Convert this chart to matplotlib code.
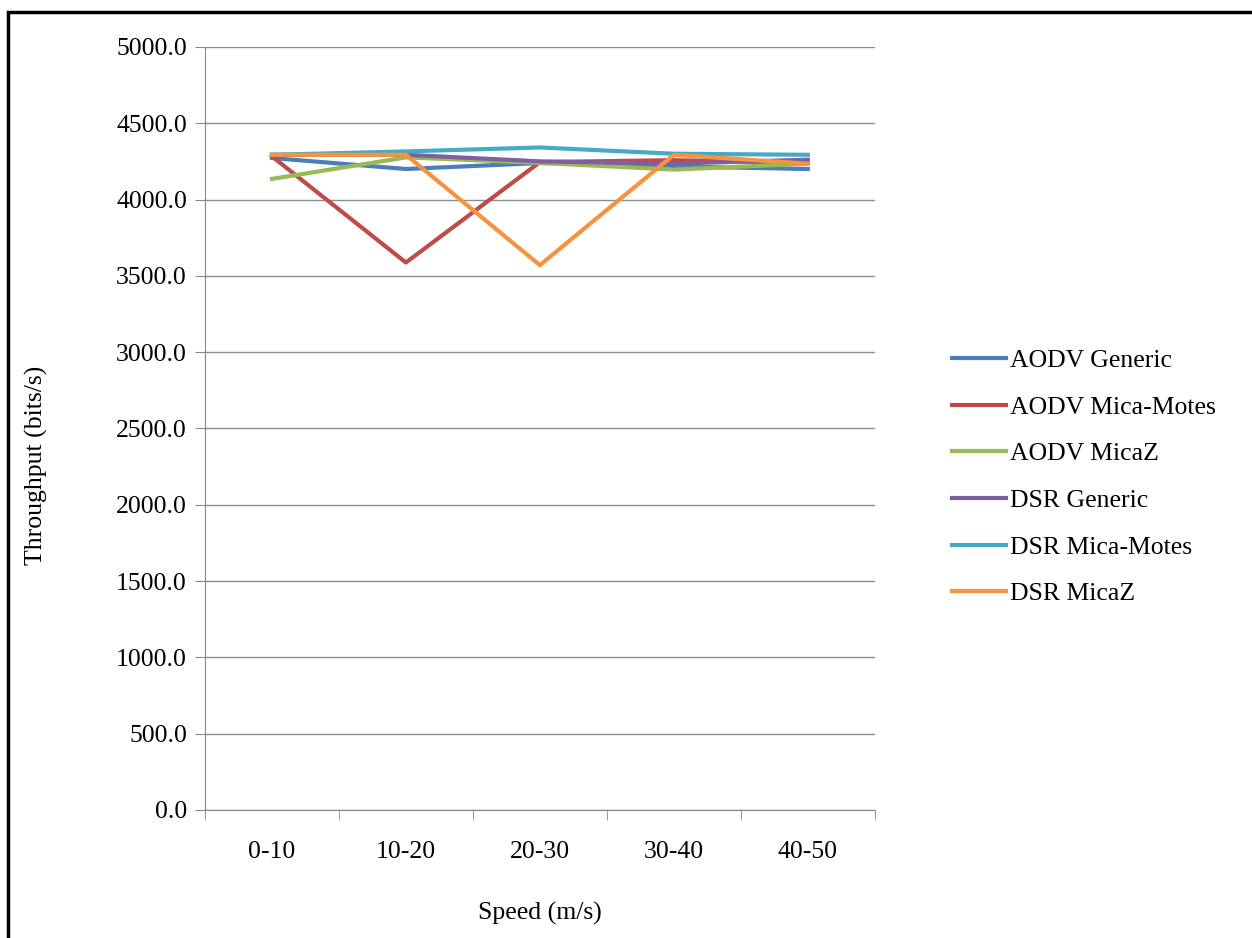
import matplotlib.pyplot as plt
from matplotlib.patches import Rectangle
import numpy as np

# data
speeds = ['0-10', '10-20', '20-30', '30-40', '40-50']
aodv_generic = [4272, 4200, 4239, 4217, 4200]
aodv_mica_motes = [4283, 3587, 4245, 4258, 4239]
aodv_micaz = [4135, 4276, 4240, 4196, 4235]
dsr_generic = [4293, 4293, 4250, 4235, 4261]
dsr_mica_motes = [4293, 4315, 4341, 4300, 4293]
dsr_micaz = [4293, 4293, 3570, 4293, 4235]

series = [
    ('AODV Generic', aodv_generic, '#4A7EBB'),
    ('AODV Mica-Motes', aodv_mica_motes, '#BE4B48'),
    ('AODV MicaZ', aodv_micaz, '#98B954'),
    ('DSR Generic', dsr_generic, '#7D60A0'),
    ('DSR Mica-Motes', dsr_mica_motes, '#46AAC5'),
    ('DSR MicaZ', dsr_micaz, '#F69240'),
]

plt.rcParams['font.family'] = ['Liberation Serif', 'DejaVu Serif']
fs = 18.5

fig = plt.figure(figsize=(12.52, 9.38), dpi=100)
ax = fig.add_axes([0.1637, 0.1365, 0.535, 0.8135])

x = np.arange(len(speeds))
for name, vals, col in series:
    ax.plot(x, vals, color=col, lw=3, label=name)

ax.set_ylim(0, 5000)
ax.set_xlim(-0.5, len(speeds) - 0.5)
ax.set_yticks(np.arange(0, 5001, 500))
ax.set_yticklabels(['%.1f' % v for v in np.arange(0, 5001, 500)])
ax.set_xticks(x)
ax.set_xticklabels(speeds)
ax.set_xticks(np.arange(-0.5, len(speeds), 1), minor=True)
ax.tick_params(axis='x', which='major', length=0, pad=22, labelsize=fs)
ax.tick_params(axis='x', which='minor', length=7, color='#888888', direction='out')
ax.tick_params(axis='y', length=7, color='#888888', direction='out', labelsize=fs, pad=6)
ax.grid(axis='y', color='#8c8c8c', lw=1)
ax.set_axisbelow(True)
for s in ['top', 'right']:
    ax.spines[s].set_visible(False)
for s in ['left', 'bottom']:
    ax.spines[s].set_color('#888888')

fig.text(0.029, 1 - 465 / 938, 'Throughput (bits/s)', fontsize=fs, rotation=90,
         ha='center', va='center')
ax.set_xlabel('Speed (m/s)', fontsize=fs, labelpad=28)

ax.legend(loc='center left', bbox_to_anchor=(1.1, 0.436), frameon=False,
          fontsize=fs, handlelength=2.1, handletextpad=0.15, labelspacing=0.92,
          borderaxespad=0)

# outer chart frame (open on the right)
fig.patches.append(Rectangle((0.006, -0.05), 1.1, 1.037, transform=fig.transFigure,
                             fill=False, edgecolor='black', lw=2.5))

fig.savefig('out.png', dpi=100)
